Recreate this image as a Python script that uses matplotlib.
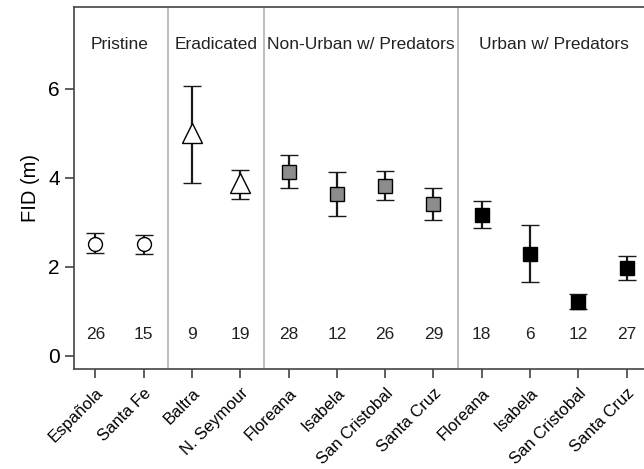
import matplotlib
matplotlib.use('Agg')
import matplotlib.pyplot as plt

plt.rcParams['font.family'] = ['Liberation Sans', 'DejaVu Sans']

sites = ['Española', 'Santa Fe', 'Baltra', 'N. Seymour', 'Floreana', 'Isabela',
         'San Cristobal', 'Santa Cruz', 'Floreana', 'Isabela', 'San Cristobal', 'Santa Cruz']
fid_mean = [2.52, 2.50, 5.00, 3.88, 4.13, 3.64, 3.82, 3.41, 3.17, 2.29, 1.21, 1.97]
fid_upper = [2.75, 2.71, 6.07, 4.17, 4.50, 4.13, 4.16, 3.78, 3.48, 2.94, 1.39, 2.24]
fid_lower = [2.31, 2.29, 3.88, 3.53, 3.76, 3.15, 3.50, 3.05, 2.87, 1.66, 1.06, 1.70]
n_obs = [26, 15, 9, 19, 28, 12, 26, 29, 18, 6, 12, 27]
groups = ['Pristine', 'Eradicated', 'Non-Urban w/ Predators', 'Urban w/ Predators']
group_size = [2, 2, 4, 4]

# style per group: marker, size, face colour
styles = [('o', 10, 'white'), ('^', 14, 'white'), ('s', 9.5, '#8c8c8c'), ('s', 10, 'black')]

fig = plt.figure(figsize=(6.44, 4.69), dpi=100)
ax = fig.add_axes([0.1154, 0.2122, 0.8846, 0.7722])

start = 0
for g, size in enumerate(group_size):
    mk, ms, fc = styles[g]
    for i in range(start, start + size):
        ax.errorbar(i, fid_mean[i],
                    yerr=[[fid_mean[i] - fid_lower[i]], [fid_upper[i] - fid_mean[i]]],
                    fmt=mk, ms=ms, mfc=fc, mec='black', mew=1.0,
                    ecolor='#1a1a1a', elinewidth=1.6, capsize=6.5, capthick=1.6, zorder=3)
        ax.text(i, 0.47, str(n_obs[i]), ha='center', va='center', fontsize=12.5, color='#222222')
    ax.text(start + (size - 1) / 2, 7.0, groups[g], ha='center', va='center',
            fontsize=12.5, color='#222222')
    start += size
    if start < len(sites):
        ax.axvline(start - 0.5, color='#b8b8b8', lw=1.3, zorder=1)

ax.set_xlim(-0.435, 11.36)
ax.set_ylim(-0.31, 7.83)
ax.set_yticks([0, 2, 4, 6])
ax.set_xticks(range(len(sites)))
ax.set_xticklabels(sites, rotation=45, ha='right', rotation_mode='anchor', fontsize=12)
ax.tick_params(axis='y', labelsize=15, length=6.5, width=1.1, color='#333333', pad=4)
ax.tick_params(axis='x', length=6.5, width=1.1, color='#333333', pad=5)
ax.set_ylabel('FID (m)', fontsize=14.5, labelpad=6)

for s in ['left', 'bottom', 'top']:
    ax.spines[s].set_color('#444444')
    ax.spines[s].set_linewidth(1.2)
ax.spines['right'].set_visible(False)

fig.savefig('out.png', dpi=100)
